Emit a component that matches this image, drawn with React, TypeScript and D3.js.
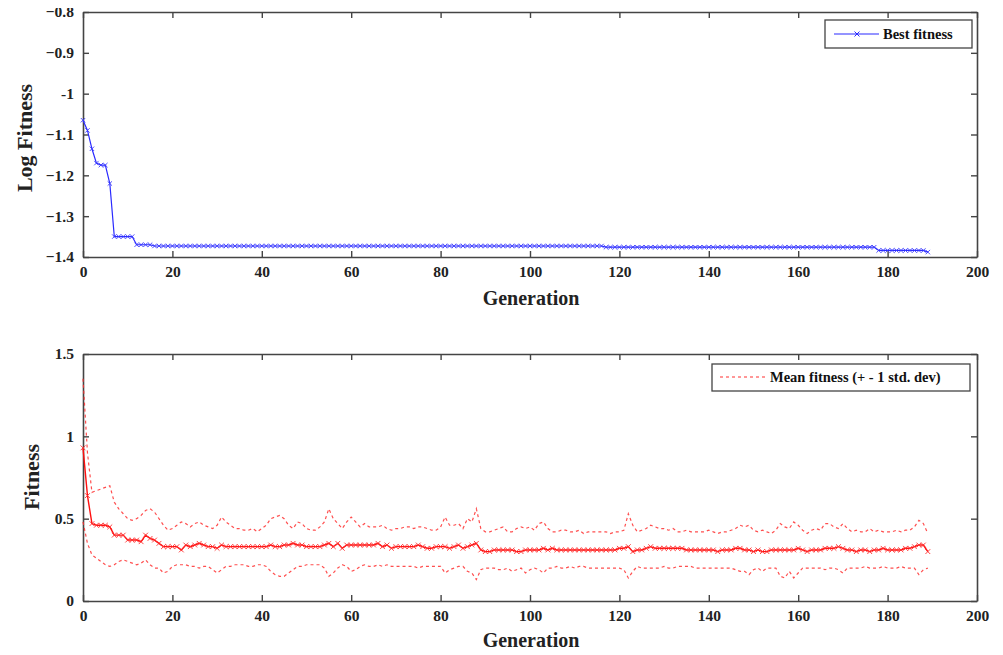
import React, { useRef, useEffect } from 'react'
import * as d3 from 'd3'

// generations 0..189
const bestFitness = [
	-1.065, -1.09, -1.135, -1.17, -1.175, -1.175, -1.22, -1.35, -1.35, -1.35,
	-1.35, -1.35, -1.37, -1.37, -1.37, -1.37, -1.373, -1.373, -1.373, -1.373,
	-1.373, -1.373, -1.373, -1.373, -1.373, -1.373, -1.373, -1.373, -1.373, -1.373,
	-1.373, -1.373, -1.373, -1.373, -1.373, -1.373, -1.373, -1.373, -1.373, -1.373,
	-1.373, -1.373, -1.373, -1.373, -1.373, -1.373, -1.373, -1.373, -1.373, -1.373,
	-1.373, -1.373, -1.373, -1.373, -1.373, -1.373, -1.373, -1.373, -1.373, -1.373,
	-1.373, -1.373, -1.373, -1.373, -1.373, -1.373, -1.373, -1.373, -1.373, -1.373,
	-1.373, -1.373, -1.373, -1.373, -1.373, -1.373, -1.373, -1.373, -1.373, -1.373,
	-1.373, -1.373, -1.373, -1.373, -1.373, -1.373, -1.373, -1.373, -1.373, -1.373,
	-1.373, -1.373, -1.373, -1.373, -1.373, -1.373, -1.373, -1.373, -1.373, -1.373,
	-1.373, -1.373, -1.373, -1.373, -1.373, -1.373, -1.373, -1.373, -1.373, -1.373,
	-1.373, -1.373, -1.373, -1.373, -1.373, -1.373, -1.373, -1.376, -1.376, -1.376,
	-1.376, -1.376, -1.376, -1.376, -1.376, -1.376, -1.376, -1.376, -1.376, -1.376,
	-1.376, -1.376, -1.376, -1.376, -1.376, -1.376, -1.376, -1.376, -1.376, -1.376,
	-1.376, -1.376, -1.376, -1.376, -1.376, -1.376, -1.376, -1.376, -1.376, -1.376,
	-1.376, -1.376, -1.376, -1.376, -1.376, -1.376, -1.376, -1.376, -1.376, -1.376,
	-1.376, -1.376, -1.376, -1.376, -1.376, -1.376, -1.376, -1.376, -1.376, -1.376,
	-1.376, -1.376, -1.376, -1.376, -1.376, -1.376, -1.376, -1.376, -1.384, -1.384,
	-1.384, -1.384, -1.384, -1.384, -1.384, -1.384, -1.384, -1.384, -1.384, -1.388,
]

const meanFitness = [
	0.93, 0.64, 0.47, 0.46, 0.46, 0.46, 0.45, 0.40, 0.40, 0.40,
	0.37, 0.37, 0.37, 0.36, 0.40, 0.38, 0.37, 0.35, 0.33, 0.33,
	0.33, 0.33, 0.31, 0.34, 0.33, 0.34, 0.35, 0.34, 0.33, 0.33,
	0.32, 0.34, 0.33, 0.33, 0.33, 0.33, 0.33, 0.33, 0.33, 0.33,
	0.33, 0.33, 0.34, 0.33, 0.33, 0.34, 0.34, 0.35, 0.34, 0.34,
	0.33, 0.33, 0.33, 0.33, 0.34, 0.35, 0.33, 0.35, 0.32, 0.34,
	0.34, 0.34, 0.34, 0.34, 0.34, 0.34, 0.35, 0.33, 0.34, 0.32,
	0.33, 0.33, 0.33, 0.33, 0.33, 0.34, 0.33, 0.32, 0.32, 0.33,
	0.33, 0.33, 0.32, 0.33, 0.34, 0.32, 0.33, 0.34, 0.35, 0.31,
	0.30, 0.30, 0.31, 0.31, 0.31, 0.31, 0.31, 0.30, 0.30, 0.31,
	0.31, 0.31, 0.31, 0.32, 0.31, 0.32, 0.31, 0.31, 0.31, 0.31,
	0.31, 0.31, 0.31, 0.31, 0.31, 0.31, 0.31, 0.31, 0.31, 0.31,
	0.32, 0.32, 0.33, 0.30, 0.31, 0.31, 0.32, 0.33, 0.32, 0.32,
	0.32, 0.32, 0.32, 0.32, 0.32, 0.31, 0.31, 0.31, 0.31, 0.31,
	0.31, 0.31, 0.30, 0.31, 0.31, 0.31, 0.32, 0.32, 0.31, 0.31,
	0.30, 0.31, 0.30, 0.30, 0.31, 0.31, 0.31, 0.31, 0.31, 0.31,
	0.32, 0.31, 0.30, 0.31, 0.31, 0.31, 0.32, 0.32, 0.32, 0.33,
	0.32, 0.31, 0.31, 0.30, 0.31, 0.31, 0.30, 0.31, 0.31, 0.32,
	0.31, 0.31, 0.31, 0.31, 0.32, 0.32, 0.33, 0.34, 0.34, 0.30,
]

// mean + 1 std. dev
const upperFitness = [
	1.35, 0.90, 0.66, 0.67, 0.68, 0.69, 0.70, 0.60, 0.56, 0.53,
	0.50, 0.49, 0.50, 0.52, 0.55, 0.56, 0.54, 0.50, 0.46, 0.43,
	0.44, 0.46, 0.48, 0.47, 0.45, 0.47, 0.48, 0.46, 0.45, 0.44,
	0.46, 0.51, 0.48, 0.46, 0.44, 0.44, 0.43, 0.43, 0.44, 0.42,
	0.44, 0.46, 0.50, 0.51, 0.52, 0.50, 0.46, 0.44, 0.48, 0.47,
	0.44, 0.43, 0.43, 0.45, 0.48, 0.56, 0.50, 0.47, 0.44, 0.48,
	0.51, 0.48, 0.45, 0.47, 0.45, 0.45, 0.45, 0.46, 0.44, 0.43,
	0.44, 0.44, 0.45, 0.45, 0.44, 0.45, 0.45, 0.44, 0.43, 0.43,
	0.45, 0.51, 0.46, 0.46, 0.47, 0.44, 0.50, 0.48, 0.56, 0.44,
	0.42, 0.42, 0.43, 0.44, 0.45, 0.42, 0.42, 0.44, 0.45, 0.44,
	0.45, 0.43, 0.47, 0.48, 0.44, 0.42, 0.42, 0.43, 0.43, 0.42,
	0.42, 0.43, 0.41, 0.42, 0.42, 0.42, 0.42, 0.42, 0.41, 0.42,
	0.42, 0.43, 0.53, 0.46, 0.42, 0.43, 0.44, 0.46, 0.45, 0.44,
	0.44, 0.43, 0.44, 0.42, 0.42, 0.43, 0.42, 0.42, 0.42, 0.42,
	0.43, 0.42, 0.41, 0.42, 0.42, 0.43, 0.44, 0.46, 0.45, 0.46,
	0.43, 0.42, 0.43, 0.42, 0.41, 0.43, 0.47, 0.45, 0.44, 0.48,
	0.46, 0.43, 0.41, 0.43, 0.44, 0.43, 0.47, 0.47, 0.45, 0.44,
	0.47, 0.44, 0.42, 0.43, 0.42, 0.42, 0.44, 0.42, 0.43, 0.42,
	0.42, 0.42, 0.43, 0.42, 0.43, 0.43, 0.45, 0.49, 0.47, 0.41,
]

// mean - 1 std. dev
const lowerFitness = [
	0.48, 0.35, 0.28, 0.26, 0.24, 0.22, 0.21, 0.22, 0.24, 0.25,
	0.24, 0.23, 0.22, 0.23, 0.25, 0.22, 0.20, 0.20, 0.17, 0.18,
	0.21, 0.22, 0.22, 0.22, 0.21, 0.21, 0.20, 0.21, 0.21, 0.19,
	0.17, 0.19, 0.21, 0.21, 0.22, 0.22, 0.22, 0.21, 0.21, 0.22,
	0.22, 0.21, 0.18, 0.16, 0.15, 0.15, 0.17, 0.19, 0.21, 0.21,
	0.22, 0.22, 0.22, 0.22, 0.20, 0.15, 0.17, 0.20, 0.22, 0.21,
	0.18, 0.19, 0.21, 0.22, 0.21, 0.21, 0.22, 0.21, 0.22, 0.21,
	0.21, 0.21, 0.21, 0.21, 0.21, 0.20, 0.21, 0.21, 0.21, 0.21,
	0.21, 0.17, 0.19, 0.20, 0.21, 0.21, 0.18, 0.17, 0.13, 0.19,
	0.20, 0.20, 0.20, 0.19, 0.19, 0.20, 0.18, 0.19, 0.20, 0.17,
	0.19, 0.20, 0.19, 0.17, 0.20, 0.20, 0.21, 0.20, 0.20, 0.21,
	0.20, 0.21, 0.21, 0.20, 0.20, 0.20, 0.20, 0.20, 0.20, 0.20,
	0.20, 0.19, 0.14, 0.18, 0.21, 0.20, 0.20, 0.20, 0.20, 0.20,
	0.21, 0.20, 0.20, 0.21, 0.21, 0.21, 0.21, 0.20, 0.20, 0.20,
	0.20, 0.20, 0.20, 0.20, 0.20, 0.20, 0.19, 0.18, 0.18, 0.16,
	0.19, 0.20, 0.18, 0.20, 0.20, 0.20, 0.15, 0.14, 0.18, 0.14,
	0.17, 0.20, 0.20, 0.20, 0.20, 0.20, 0.19, 0.20, 0.20, 0.19,
	0.17, 0.20, 0.20, 0.20, 0.20, 0.21, 0.20, 0.20, 0.20, 0.21,
	0.20, 0.20, 0.20, 0.21, 0.20, 0.20, 0.20, 0.16, 0.19, 0.20,
]

const xTicks = [0, 20, 40, 60, 80, 100, 120, 140, 160, 180, 200]
const topYTicks = [-1.4, -1.3, -1.2, -1.1, -1, -0.9, -0.8]
const bottomYTicks = [0, 0.5, 1, 1.5]

const FONT = '"Liberation Serif", "DejaVu Serif", serif'

const App = () => {
	const svgRef = useRef<SVGSVGElement>(null)

	useEffect(() => {
		const svg = d3.select(svgRef.current)
		svg.selectAll('*').remove()

		const left = 83
		const right = 977

		const x = d3.scaleLinear().domain([0, 200]).range([left, right])

		// rysuje ramkę z osiami (ticki do środka na wszystkich bokach)
		const drawFrame = (y: d3.ScaleLinear<number, number>, yTicks: number[], fmt: (d: number) => string) => {
			const [bottom, top] = y.range()
			const g = svg.append('g')

			const styleAxis = (sel: any) => {
				sel.select('.domain').attr('stroke', '#444').attr('stroke-width', 1.6)
				sel.selectAll('.tick line').attr('stroke', '#444').attr('stroke-width', 1.4)
				sel
					.selectAll('.tick text')
					.attr('font-family', FONT)
					.attr('font-weight', 'bold')
					.attr('font-size', 15.5)
					.attr('fill', '#222')
			}

			g.append('g')
				.attr('transform', `translate(0,${bottom})`)
				.call(d3.axisBottom(x).tickValues(xTicks).tickSizeInner(-6).tickSizeOuter(0).tickPadding(9).tickFormat(d3.format('d')))
				.call(styleAxis)
			g.append('g')
				.attr('transform', `translate(0,${top})`)
				.call(d3.axisTop(x).tickValues(xTicks).tickSizeInner(-6).tickSizeOuter(0).tickFormat(() => ''))
				.call(styleAxis)
			g.append('g')
				.attr('transform', `translate(${left},0)`)
				.call(d3.axisLeft(y).tickValues(yTicks).tickSizeInner(-6).tickSizeOuter(0).tickPadding(9).tickFormat(d => fmt(+d)))
				.call(styleAxis)
			g.append('g')
				.attr('transform', `translate(${right},0)`)
				.call(d3.axisRight(y).tickValues(yTicks).tickSizeInner(-6).tickSizeOuter(0).tickFormat(() => ''))
				.call(styleAxis)
			g.selectAll('path.domain').attr('fill', 'none')
		}

		const xMarker = (g: any, data: number[], y: d3.ScaleLinear<number, number>, color: string, s: number) => {
			g.selectAll('path.mk')
				.data(data)
				.enter()
				.append('path')
				.attr('class', 'mk')
				.attr('d', (d: number, i: number) => {
					const cx = x(i)
					const cy = y(d)
					return `M${cx - s},${cy - s}L${cx + s},${cy + s}M${cx - s},${cy + s}L${cx + s},${cy - s}`
				})
				.attr('stroke', color)
				.attr('stroke-width', 0.9)
				.attr('fill', 'none')
		}

		// --- Wykres górny: Log Fitness ---
		const yTop = d3.scaleLinear().domain([-1.4, -0.8]).range([257, 12])
		drawFrame(yTop, topYTicks, d => (d === -1 ? '-1' : d3.format('.1f')(d)))

		const line = (y: d3.ScaleLinear<number, number>) =>
			d3
				.line<number>()
				.x((d, i) => x(i))
				.y(d => y(d))

		const gTop = svg.append('g')
		gTop.append('path')
			.datum(bestFitness)
			.attr('d', line(yTop))
			.attr('fill', 'none')
			.attr('stroke', '#2a2aff')
			.attr('stroke-width', 1.2)
		xMarker(gTop, bestFitness, yTop, '#3b3bff', 2.2)

		svg.append('text')
			.attr('x', 531)
			.attr('y', 305)
			.attr('text-anchor', 'middle')
			.attr('font-family', FONT)
			.attr('font-weight', 'bold')
			.attr('font-size', 20)
			.attr('fill', '#222')
			.text('Generation')
		svg.append('text')
			.attr('transform', 'translate(27,138) rotate(-90)')
			.attr('text-anchor', 'middle')
			.attr('dominant-baseline', 'middle')
			.attr('font-family', FONT)
			.attr('font-weight', 'bold')
			.attr('font-size', 22)
			.attr('fill', '#222')
			.text('Log Fitness')

		// legenda górna
		const lg1 = svg.append('g')
		lg1.append('rect').attr('x', 825).attr('y', 20).attr('width', 147).attr('height', 28)
			.attr('fill', 'white').attr('stroke', '#444').attr('stroke-width', 1.3)
		lg1.append('line').attr('x1', 834).attr('x2', 879).attr('y1', 34).attr('y2', 34)
			.attr('stroke', '#2a2aff').attr('stroke-width', 1.2)
		lg1.append('path').attr('d', 'M854.5,31.5L859.5,36.5M854.5,36.5L859.5,31.5').attr('stroke', '#2a2aff').attr('stroke-width', 1)
		lg1.append('text').attr('x', 883).attr('y', 39).attr('font-family', FONT).attr('font-weight', 'bold')
			.attr('font-size', 14.5).attr('fill', '#111').text('Best fitness')

		// --- Wykres dolny: Fitness ---
		const yBot = d3.scaleLinear().domain([0, 1.5]).range([601, 354])
		drawFrame(yBot, bottomYTicks, d => String(d))

		const gBot = svg.append('g')
		;[upperFitness, lowerFitness].forEach(arr => {
			gBot.append('path')
				.datum(arr)
				.attr('d', line(yBot))
				.attr('fill', 'none')
				.attr('stroke', '#ff3030')
				.attr('stroke-width', 1.2)
				.attr('stroke-dasharray', '3,3')
				.attr('opacity', 0.85)
		})
		gBot.append('path')
			.datum(meanFitness)
			.attr('d', line(yBot))
			.attr('fill', 'none')
			.attr('stroke', '#ff1010')
			.attr('stroke-width', 1.4)
		xMarker(gBot, meanFitness, yBot, '#ff3030', 2.4)

		svg.append('text')
			.attr('x', 531)
			.attr('y', 647)
			.attr('text-anchor', 'middle')
			.attr('font-family', FONT)
			.attr('font-weight', 'bold')
			.attr('font-size', 20)
			.attr('fill', '#222')
			.text('Generation')
		svg.append('text')
			.attr('transform', 'translate(34,477) rotate(-90)')
			.attr('text-anchor', 'middle')
			.attr('dominant-baseline', 'middle')
			.attr('font-family', FONT)
			.attr('font-weight', 'bold')
			.attr('font-size', 22)
			.attr('fill', '#222')
			.text('Fitness')

		// legenda dolna
		const lg2 = svg.append('g')
		lg2.append('rect').attr('x', 712).attr('y', 364).attr('width', 258).attr('height', 27)
			.attr('fill', 'white').attr('stroke', '#444').attr('stroke-width', 1.3)
		lg2.append('line').attr('x1', 720).attr('x2', 767).attr('y1', 377).attr('y2', 377)
			.attr('stroke', '#ff3030').attr('stroke-width', 1.2).attr('stroke-dasharray', '3,3')
		lg2.append('text').attr('x', 770).attr('y', 382).attr('font-family', FONT).attr('font-weight', 'bold')
			.attr('font-size', 14.5).attr('fill', '#111').text('Mean fitness (+ - 1 std. dev)')
	}, [])

	return <svg ref={svgRef} width={1003} height={655} style={{ display: 'block', margin: '-8px 0 0 -8px' }}></svg>
}

export default App
